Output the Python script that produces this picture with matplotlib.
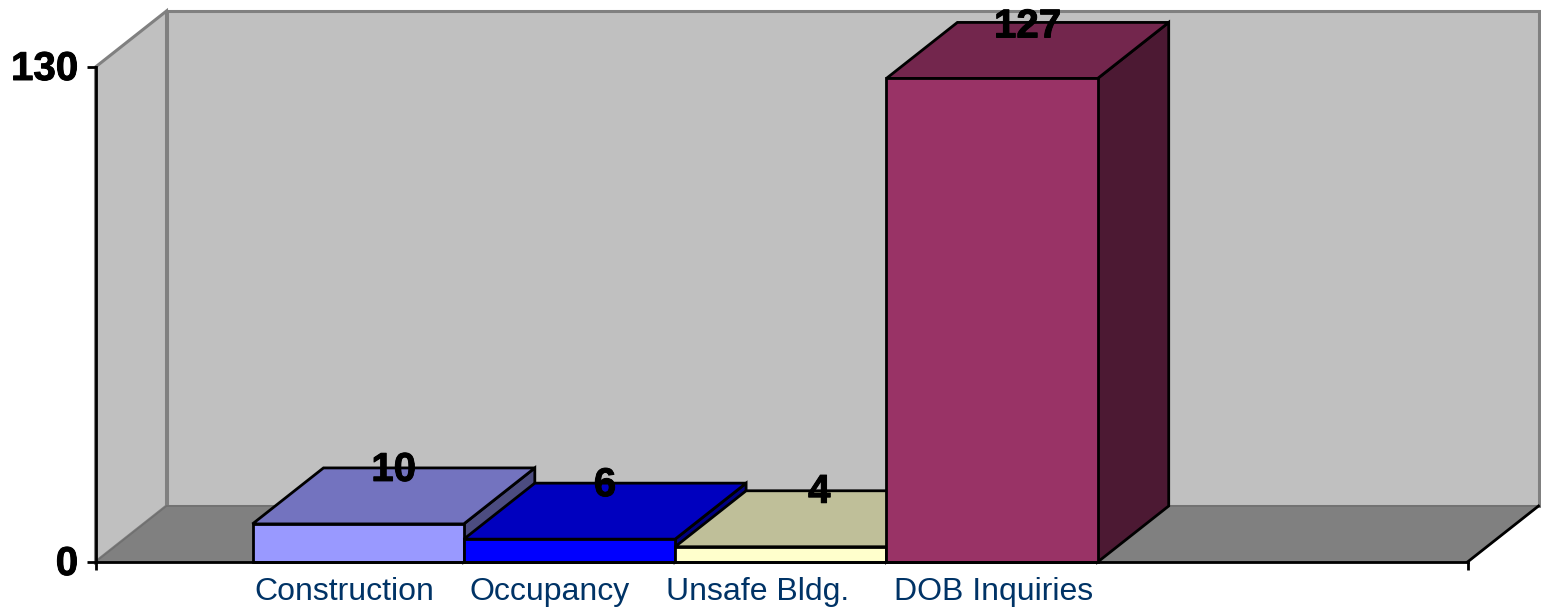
import matplotlib
matplotlib.use("Agg")
import matplotlib.pyplot as plt
import matplotlib.patheffects as pe
from matplotlib.patches import Polygon
from matplotlib.transforms import Affine2D

categories = ["Construction", "Occupancy", "Unsafe Bldg.", "DOB Inquiries"]
values = [10, 6, 4, 127]
front_colors = ["#9999FF", "#0000FF", "#FFFFCC", "#993366"]
top_colors = ["#7373BF", "#0000BF", "#BFBF99", "#73264D"]
side_colors = ["#4C4C80", "#000080", "#808066", "#4C1933"]
y_ticks = [0, 130]

W, H = 1541, 608
L, R, B, T = 96, 1468, 562, 67
DX, DY = 71, 56
plt.rcParams["font.family"] = ["Liberation Sans", "DejaVu Sans"]

fig = plt.figure(figsize=(W / 100, H / 100), dpi=100, facecolor="white")
ax = fig.add_axes([(L - 0.5) / W, 1 - B / H, (R - L) / W, (B - T) / H])
ax.set_facecolor("none")
bar_w = 211.3
ax.set_xlim(-(253 - L) / bar_w, (R - 253) / bar_w)
ax.set_ylim(y_ticks[0], y_ticks[-1])

depth = ax.transData + Affine2D().translate(DX, DY)
x0, x1 = ax.get_xlim()
y0, y1 = ax.get_ylim()
bold = [pe.withStroke(linewidth=0.7, foreground="black")]


def to_disp(p, back):
    return (depth if back else ax.transData).transform(p)


def face(points, color, edge, lw=2.0, z=1):
    """points: (x, y, is_back) in data coordinates."""
    verts = [to_disp((x, y), b) for x, y, b in points]
    ax.add_patch(Polygon(verts, closed=True, transform=None, facecolor=color,
                         edgecolor=edge, linewidth=lw, zorder=z, clip_on=False,
                         joinstyle="miter"))


# walls and floor
face([(x0, y0, 1), (x1, y0, 1), (x1, y1, 1), (x0, y1, 1)], "#C0C0C0", "#808080", 2.2, 1)
face([(x0, y0, 0), (x0, y1, 0), (x0, y1, 1), (x0, y0, 1)], "#C0C0C0", "#808080", 2.2, 1)
face([(x0, y0, 0), (x1, y0, 0), (x1, y0, 1), (x0, y0, 1)], "#808080", "#707070", 1.2, 1.5)
ax.plot([to_disp((x1, y0), 0)[0], to_disp((x1, y0), 1)[0]],
        [to_disp((x1, y0), 0)[1], to_disp((x1, y0), 1)[1]],
        transform=None, color="black", lw=2.0, zorder=1.6, clip_on=False)

# bars
label_nudge = [(0, 0), (0, 0), (3, 1), (0, -2)]
for i, (v, cf, ct, cs) in enumerate(zip(values, front_colors, top_colors, side_colors)):
    z = 2 + i
    face([(i + 1, y0, 0), (i + 1, v, 0), (i + 1, v, 1), (i + 1, y0, 1)], cs, "black", 2.0, z)
    face([(i, v, 0), (i + 1, v, 0), (i + 1, v, 1), (i, v, 1)], ct, "black", 2.0, z)
    face([(i, y0, 0), (i + 1, y0, 0), (i + 1, v, 0), (i, v, 0)], cf, "black", 2.0, z)
    cx, cy = depth.transform((i + 0.5, v))
    ax.text(cx - DX / 2 + label_nudge[i][0], cy - 2 + label_nudge[i][1], str(v),
            transform=None, ha="center", va="center", fontsize=29, fontweight="bold",
            color="black", zorder=20, path_effects=bold)

# axes
for s in ("top", "right"):
    ax.spines[s].set_visible(False)
for s in ("left", "bottom"):
    ax.spines[s].set_linewidth(2.0)
    ax.spines[s].set_zorder(15)
ax.set_yticks(y_ticks, [str(t) for t in y_ticks], fontsize=29, fontweight="bold")
ax.set_xticks([x0, x1], ["", ""])
ax.tick_params(axis="y", length=6.5, width=2.0, pad=6)
ax.tick_params(axis="x", length=6, width=2.0)
for lab in ax.get_yticklabels():
    lab.set_transform(lab.get_transform() + Affine2D().translate(0, 2))
    lab.set_path_effects(bold)

label_shift = [-14, -20, -23, 2]
for i, (c, s) in enumerate(zip(categories, label_shift)):
    px, _ = ax.transData.transform((i + 0.5, y0))
    ax.text(px + s, H - 592, c, transform=None, ha="center", va="center",
            fontsize=23, color="#003366", zorder=20)

fig.savefig("out.png", dpi=100, facecolor="white")
